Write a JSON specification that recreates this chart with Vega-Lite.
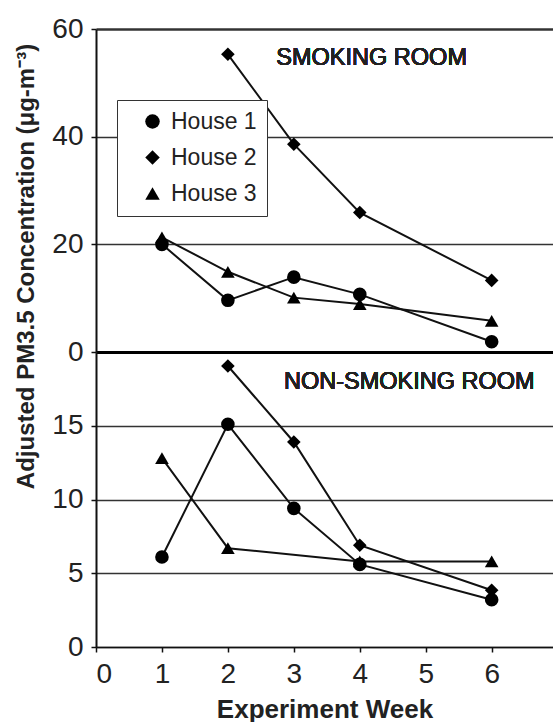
{
  "$schema": "https://vega.github.io/schema/vega-lite/v6.json",
  "padding": {"left": 13, "top": 15, "right": 0, "bottom": 0},
  "background": "white",
  "bounds": "flush",
  "spacing": 0,
  "config": {
    "font": "Liberation Sans",
    "view": {"stroke": null},
    "axis": {
      "labelFont": "Liberation Sans",
      "labelFontSize": 28,
      "labelColor": "#222",
      "titleFont": "Liberation Sans",
      "titleFontSize": 26,
      "titleFontWeight": "bold",
      "titleColor": "#222",
      "tickColor": "#111",
      "tickSize": 5,
      "tickWidth": 1.5,
      "domainColor": "#111",
      "gridColor": "#333",
      "gridWidth": 1.5,
      "gridOpacity": 1
    }
  },
  "datasets": {
    "smoking": [
      {"week": 1, "value": 20.0, "house": "House 1"},
      {"week": 2, "value": 9.6, "house": "House 1"},
      {"week": 3, "value": 13.9, "house": "House 1"},
      {"week": 4, "value": 10.7, "house": "House 1"},
      {"week": 6, "value": 1.9, "house": "House 1"},
      {"week": 2, "value": 55.3, "house": "House 2"},
      {"week": 3, "value": 38.6, "house": "House 2"},
      {"week": 4, "value": 25.9, "house": "House 2"},
      {"week": 6, "value": 13.3, "house": "House 2"},
      {"week": 1, "value": 21.3, "house": "House 3"},
      {"week": 2, "value": 14.9, "house": "House 3"},
      {"week": 3, "value": 10.1, "house": "House 3"},
      {"week": 4, "value": 8.9, "house": "House 3"},
      {"week": 6, "value": 5.8, "house": "House 3"}
    ],
    "nonsmoking": [
      {"week": 1, "value": 6.1, "house": "House 1"},
      {"week": 2, "value": 15.1, "house": "House 1"},
      {"week": 3, "value": 9.4, "house": "House 1"},
      {"week": 4, "value": 5.6, "house": "House 1"},
      {"week": 6, "value": 3.2, "house": "House 1"},
      {"week": 2, "value": 19.05, "house": "House 2"},
      {"week": 3, "value": 13.9, "house": "House 2"},
      {"week": 4, "value": 6.9, "house": "House 2"},
      {"week": 6, "value": 3.85, "house": "House 2"},
      {"week": 1, "value": 12.8, "house": "House 3"},
      {"week": 2, "value": 6.7, "house": "House 3"},
      {"week": 4, "value": 5.8, "house": "House 3"},
      {"week": 6, "value": 5.8, "house": "House 3"}
    ]
  },
  "resolve": {
    "scale": {"x": "independent", "y": "independent", "shape": "independent"},
    "axis": {"x": "independent", "y": "independent"},
    "legend": {"shape": "independent"}
  },
  "vconcat": [
    {
      "width": 457,
      "height": 323,
      "data": {"name": "smoking"},
      "encoding": {
        "x": {
          "field": "week", "type": "quantitative",
          "scale": {"domain": [0, 6.93], "nice": false, "zero": false},
          "axis": {"orient": "bottom", "labels": false, "ticks": false, "title": null, "grid": false, "domainWidth": 3, "domainColor": "#000"}
        },
        "y": {
          "field": "value", "type": "quantitative",
          "scale": {"domain": [0, 60], "nice": false},
          "axis": {
            "values": [0, 20, 40, 60],
            "grid": true,
            "gridWidth": {"condition": {"test": "datum.value == 60", "value": 2.5}, "value": 1.5},
            "domainWidth": 2,
            "labelPadding": 8,
            "title": "Adjusted PM3.5 Concentration (μg-m⁻³)",
            "titleFontSize": 24,
            "titleX": -58,
            "titleY": 237
          }
        }
      },
      "layer": [
        {
          "mark": {"type": "line", "color": "#111", "strokeWidth": 2},
          "encoding": {"detail": {"field": "house"}}
        },
        {
          "mark": {"type": "point", "filled": true, "color": "#000", "opacity": 1, "size": 185},
          "encoding": {
            "shape": {
              "field": "house", "type": "nominal",
              "scale": {"domain": ["House 1", "House 2", "House 3"], "range": ["circle", "diamond", "triangle-up"]},
              "legend": {
                "orient": "none",
                "legendX": 21,
                "legendY": 71,
                "title": null,
                "strokeColor": "#333",
                "fillColor": "white",
                "padding": 10,
                "symbolOffset": 14,
                "labelOffset": 7,
                "labelFontSize": 23,
                "labelFont": "Liberation Sans",
                "labelColor": "#222",
                "rowPadding": 12,
                "symbolSize": 210,
                "symbolFillColor": "#000",
                "symbolStrokeColor": "#000",
                "symbolStrokeWidth": 0
              }
            }
          }
        },
        {
          "mark": {"type": "text", "text": "SMOKING ROOM", "fontSize": 23.5, "font": "Liberation Sans", "color": "#222", "align": "center", "baseline": "middle"},
          "encoding": {"x": {"datum": 4.18}, "y": {"datum": 54.6}}
        }
      ]
    },
    {
      "width": 457,
      "height": 295,
      "data": {"name": "nonsmoking"},
      "encoding": {
        "x": {
          "field": "week", "type": "quantitative",
          "scale": {"domain": [0, 6.93], "nice": false, "zero": false},
          "axis": {"values": [0, 1, 2, 3, 4, 5, 6], "grid": false, "domainWidth": 1.5, "labelPadding": 8, "title": "Experiment Week", "titlePadding": 8}
        },
        "y": {
          "field": "value", "type": "quantitative",
          "scale": {"domain": [0, 20], "nice": false},
          "axis": {"values": [0, 5, 10, 15], "grid": true, "domainWidth": 2, "labelPadding": 8, "title": null}
        }
      },
      "layer": [
        {
          "mark": {"type": "line", "color": "#111", "strokeWidth": 2},
          "encoding": {"detail": {"field": "house"}}
        },
        {
          "mark": {"type": "point", "filled": true, "color": "#000", "opacity": 1, "size": 185},
          "encoding": {
            "shape": {
              "field": "house", "type": "nominal",
              "scale": {"domain": ["House 1", "House 2", "House 3"], "range": ["circle", "diamond", "triangle-up"]},
              "legend": null
            }
          }
        },
        {
          "mark": {"type": "text", "text": "NON-SMOKING ROOM", "fontSize": 23.5, "font": "Liberation Sans", "color": "#222", "align": "center", "baseline": "middle"},
          "encoding": {"x": {"datum": 4.75}, "y": {"datum": 18.0}}
        }
      ]
    }
  ]
}
